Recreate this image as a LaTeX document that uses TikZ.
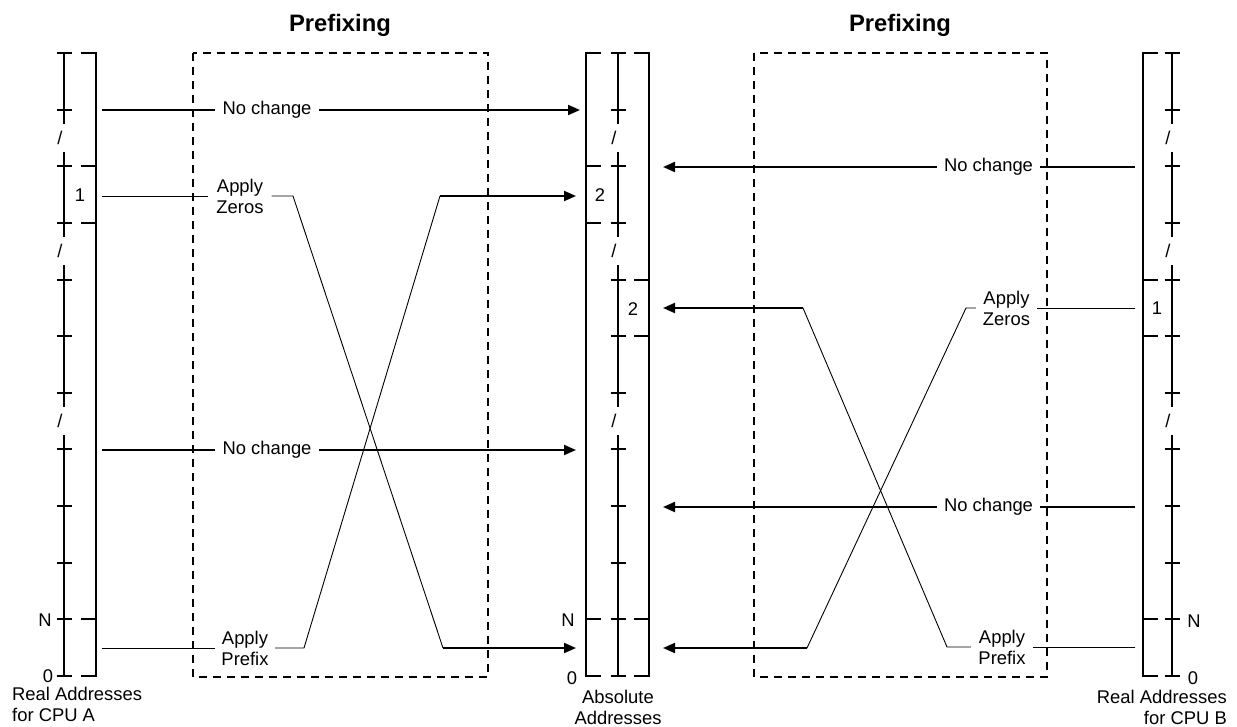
\documentclass[tikz,border=0pt]{standalone}
\usepackage{fontspec}
\setmainfont{Liberation Sans}
\usetikzlibrary{arrows.meta}
\begin{document}
\begin{tikzpicture}[x=1pt,y=-1pt,
  thickline/.style={line width=2pt},
  thinline/.style={line width=0.9pt},
  arr/.style={line width=2pt,-{Triangle[length=12pt,width=10pt]}},
  lbl/.style={font=\fontsize{18.4}{21}\selectfont, inner sep=0pt, align=center},
  ttl/.style={font=\bfseries\fontsize{23.8}{28}\selectfont, inner sep=0pt},
  dbox/.style={line width=2pt, dash pattern=on 8pt off 6pt}]
\useasboundingbox (0,0) rectangle (1237,726);

% titles
\node[ttl] (t1) at (340,25) {Prefixing};
\node[ttl] (t2) at (900,25) {Prefixing};

% dashed boxes
\draw[dbox] (193,53) rectangle (488,677);
\draw[dbox] (754,53) rectangle (1047,677);

% axes with ticks and gaps
\foreach \ax/\sl in {64/60, 618/614, 1172/1168} {
  \draw[thickline] (\ax,53) -- (\ax,124);
  \draw[thickline] (\ax,152) -- (\ax,237);
  \draw[thickline] (\ax,265) -- (\ax,407);
  \draw[thickline] (\ax,435) -- (\ax,676);
  \foreach \i in {0,...,11} {
    \draw[thickline] ({\ax-7.5},{53+\i*56.636}) -- ({\ax+7.5},{53+\i*56.636});
  }
  \node[lbl] at (\sl,138) {/};
  \node[lbl] at (\sl,251) {/};
  \node[lbl] at (\sl,421) {/};
}

% bars
\draw[thickline] (81,53) -- (96,53) -- (96,676) -- (81,676);
\foreach \yy in {166.3,222.9,619.4} \draw[thickline] (81,\yy) -- (96,\yy);

\draw[thickline] (601,53) -- (586,53) -- (586,676) -- (601,676);
\foreach \yy in {166.3,222.9,619.4} \draw[thickline] (586,\yy) -- (601,\yy);

\draw[thickline] (634,53) -- (649,53) -- (649,676) -- (634,676);
\foreach \yy in {279.5,336.2,619.4} \draw[thickline] (634,\yy) -- (649,\yy);

\draw[thickline] (1158,53) -- (1143,53) -- (1143,676) -- (1158,676);
\foreach \yy in {279.5,336.2,619.4} \draw[thickline] (1143,\yy) -- (1158,\yy);

% numbers
\node[lbl] (n1A) at (80,195) {1};
\node[lbl] (n2a) at (600,195) {2};
\node[lbl] (n2b) at (633,309) {2};
\node[lbl] (n1B) at (1157,308) {1};
\node[lbl] (NA) at (45,620) {N};
\node[lbl] (ZA) at (48,676) {0};
\node[lbl] (NM) at (568,620) {N};
\node[lbl] (ZM) at (572,678) {0};
\node[lbl] (NB) at (1194,621) {N};
\node[lbl] (ZB) at (1193,678) {0};

% bottom captions
\node[lbl, anchor=west, align=left] (capA) at (12,704) {Real Addresses\\for CPU A};
\node[lbl] (capM) at (618,707) {Absolute\\Addresses};
\node[lbl, anchor=east, align=right] (capB) at (1227,707) {Real Addresses\\for CPU B};

% ---- left side connectors ----
\coordinate (a1s) at (102,110);
\node[lbl, inner xsep=7pt] (nc1) at (267,110) {No change};
\coordinate (a1e) at (580,110);
\draw[thickline] (a1s) -- (nc1.west);
\draw[arr] (nc1.east) -- (a1e);

\coordinate (a2s) at (102,450);
\node[lbl, inner xsep=7pt] (nc2) at (267,450) {No change};
\coordinate (a2e) at (576,450);
\draw[thickline] (a2s) -- (nc2.west);
\draw[arr] (nc2.east) -- (a2e);

\coordinate (zAs) at (102,196);
\node[lbl, inner xsep=8pt] (zA) at (240,196) {Apply\\Zeros};
\coordinate (zAk1) at (293,196);
\coordinate (zAk2) at (443,648);
\coordinate (zAe) at (576,648);
\draw[thinline] (zAs) -- (zA.west);
\draw[thinline] (zA.east) -- (zAk1) -- (zAk2);
\draw[arr] (zAk2) -- (zAe);

\coordinate (pAs) at (102,648);
\node[lbl, inner xsep=6.5pt] (pA) at (245,648) {Apply\\Prefix};
\coordinate (pAk1) at (304,648);
\coordinate (pAk2) at (440,196);
\coordinate (pAe) at (576,196);
\draw[thinline] (pAs) -- (pA.west);
\draw[thinline] (pA.east) -- (pAk1) -- (pAk2);
\draw[arr] (pAk2) -- (pAe);

% ---- right side connectors ----
\coordinate (b1s) at (1135,167);
\node[lbl, inner xsep=7pt] (ncB1) at (988.5,167) {No change};
\coordinate (b1e) at (663,167);
\draw[thickline] (b1s) -- (ncB1.east);
\draw[arr] (ncB1.west) -- (b1e);

\coordinate (b2s) at (1135,507);
\node[lbl, inner xsep=7pt] (ncB2) at (988.5,507) {No change};
\coordinate (b2e) at (663,507);
\draw[thickline] (b2s) -- (ncB2.east);
\draw[arr] (ncB2.west) -- (b2e);

\coordinate (zBs) at (1135,308);
\node[lbl, inner xsep=7pt] (zB) at (1006.5,308) {Apply\\Zeros};
\coordinate (zBk1) at (966,308);
\coordinate (zBk2) at (807,648);
\coordinate (zBe) at (663,648);
\draw[thinline] (zBs) -- (zB.east);
\draw[thinline] (zB.west) -- (zBk1) -- (zBk2);
\draw[arr] (zBk2) -- (zBe);

\coordinate (pBs) at (1135,647);
\node[lbl, inner xsep=7.5pt] (pB) at (1002,647) {Apply\\Prefix};
\coordinate (pBk1) at (947,647);
\coordinate (pBk2) at (803,308);
\coordinate (pBe) at (663,308);
\draw[thinline] (pBs) -- (pB.east);
\draw[thinline] (pB.west) -- (pBk1) -- (pBk2);
\draw[arr] (pBk2) -- (pBe);
\end{tikzpicture}
\end{document}
